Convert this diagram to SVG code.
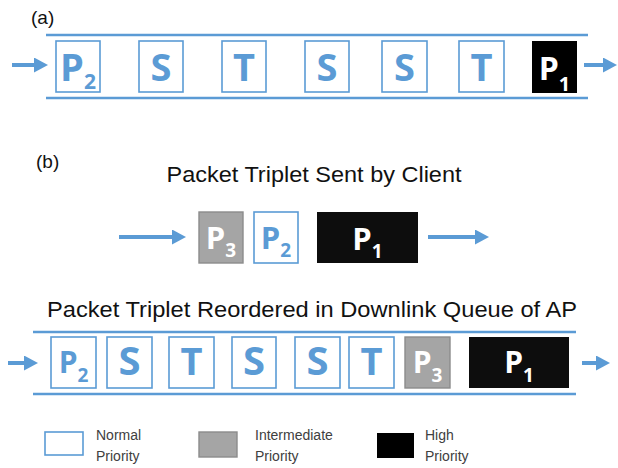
<svg xmlns="http://www.w3.org/2000/svg" width="618" height="468" viewBox="0 0 618 468">
<style>
.bg{fill:#ffffff}
.rail{stroke:#5B9BD5;stroke-width:2.5;fill:none}
.nb{fill:#ffffff;stroke:#5B9BD5;stroke-width:1.6}
.ib{fill:#A5A5A5;stroke:#8C8C8C;stroke-width:1.4}
.hb{fill:#0D0D0D}
.hb2{fill:#000000}
.arr{stroke:#5B9BD5;stroke-width:4;fill:none;marker-end:url(#ah)}
.big{font-family:"Open Sans","Liberation Sans",sans-serif;font-weight:700;text-anchor:middle}
.bl{fill:#5B9BD5}
.wh{fill:#ffffff}
.ttl{font-family:"Liberation Sans",Arial,sans-serif;font-size:22px;fill:#111111;text-anchor:middle}
.lbl{font-family:"Liberation Sans",Arial,sans-serif;font-size:19px;fill:#111111}
.leg{font-family:"Liberation Sans",Arial,sans-serif;font-size:14px;fill:#404040}
</style>
<defs>
<marker id="ah" markerUnits="userSpaceOnUse" markerWidth="14" markerHeight="15" refX="1" refY="7.5" orient="auto">
<path d="M0,0 L14,7.5 L0,15 z" fill="#5B9BD5"/>
</marker>
</defs>
<rect class="bg" x="0" y="0" width="618" height="468"/>

<text class="lbl" x="31" y="24">(a)</text>
<text class="lbl" x="36" y="168">(b)</text>
<text class="ttl" x="314" y="182" textLength="295" lengthAdjust="spacingAndGlyphs">Packet Triplet Sent by Client</text>
<text class="ttl" x="312" y="317" textLength="530" lengthAdjust="spacingAndGlyphs">Packet Triplet Reordered in Downlink Queue of AP</text>

<g id="connectors">
<line class="rail" x1="46" y1="35" x2="588" y2="35"/>
<line class="rail" x1="46" y1="98" x2="588" y2="98"/>
<line class="rail" x1="33" y1="332" x2="576" y2="332"/>
<line class="rail" x1="33" y1="394" x2="576" y2="394"/>
<line class="arr" x1="12" y1="65" x2="35" y2="65"/>
<line class="arr" x1="584" y1="65" x2="604" y2="65"/>
<line class="arr" x1="119" y1="237" x2="173" y2="237"/>
<line class="arr" x1="428" y1="237" x2="476" y2="237"/>
<line class="arr" x1="8" y1="363" x2="25" y2="363"/>
<line class="arr" x1="582" y1="363" x2="597" y2="363"/>
</g>

<g id="a-p2"><rect class="nb" x="56" y="41" width="44" height="51"/><text class="big bl" x="78" y="81" font-size="38">P<tspan font-size="21" dy="8">2</tspan></text></g>
<g id="a-s1"><rect class="nb" x="139" y="41" width="44" height="51"/><text class="big bl" x="161" y="81" font-size="38">S</text></g>
<g id="a-t1"><rect class="nb" x="222" y="41" width="44" height="51"/><text class="big bl" x="244" y="81" font-size="38">T</text></g>
<g id="a-s2"><rect class="nb" x="305" y="41" width="44" height="51"/><text class="big bl" x="327" y="81" font-size="38">S</text></g>
<g id="a-s3"><rect class="nb" x="382" y="41" width="45" height="51"/><text class="big bl" x="404.5" y="81" font-size="38">S</text></g>
<g id="a-t2"><rect class="nb" x="459" y="41" width="45" height="51"/><text class="big bl" x="481.5" y="81" font-size="38">T</text></g>
<g id="a-p1"><rect class="hb2" x="532" y="41" width="45" height="52"/><text class="big wh" x="554.5" y="80" font-size="32">P<tspan font-size="20" dy="11">1</tspan></text></g>

<g id="b-p3"><rect class="ib" x="199" y="212" width="44" height="51"/><text class="big wh" x="221" y="249" font-size="31">P<tspan font-size="19" dy="8">3</tspan></text></g>
<g id="b-p2"><rect class="nb" x="254" y="212" width="44" height="51"/><text class="big bl" x="276" y="249" font-size="31">P<tspan font-size="19" dy="8">2</tspan></text></g>
<g id="b-p1"><rect class="hb" x="317" y="212" width="101" height="51"/><text class="big wh" x="367.5" y="250" font-size="31">P<tspan font-size="19" dy="8">1</tspan></text></g>

<g id="c-p2"><rect class="nb" x="51" y="337" width="45" height="51"/><text class="big bl" x="73.5" y="373" font-size="30">P<tspan font-size="19" dy="9">2</tspan></text></g>
<g id="c-s1"><rect class="nb" x="107" y="337" width="45" height="51"/><text class="big bl" x="129.5" y="375" font-size="40">S</text></g>
<g id="c-t1"><rect class="nb" x="169" y="337" width="45" height="51"/><text class="big bl" x="191.5" y="375" font-size="38">T</text></g>
<g id="c-s2"><rect class="nb" x="232" y="337" width="44" height="51"/><text class="big bl" x="254" y="375" font-size="40">S</text></g>
<g id="c-s3"><rect class="nb" x="295" y="337" width="45" height="51"/><text class="big bl" x="317.5" y="375" font-size="40">S</text></g>
<g id="c-t2"><rect class="nb" x="349" y="337" width="45" height="51"/><text class="big bl" x="371.5" y="375" font-size="38">T</text></g>
<g id="c-p3"><rect class="ib" x="405" y="337" width="45" height="51"/><text class="big wh" x="427.5" y="373" font-size="30">P<tspan font-size="19" dy="9">3</tspan></text></g>
<g id="c-p1"><rect class="hb" x="469" y="337" width="100" height="51"/><text class="big wh" x="519" y="373" font-size="30">P<tspan font-size="19" dy="9">1</tspan></text></g>

<g id="legend-normal"><rect class="nb" x="45" y="432" width="38" height="23"/><text class="leg" x="96" y="440">Normal</text><text class="leg" x="96" y="461">Priority</text></g>
<g id="legend-intermediate"><rect class="ib" x="199" y="432" width="38" height="25"/><text class="leg" x="255" y="440">Intermediate</text><text class="leg" x="255" y="461">Priority</text></g>
<g id="legend-high"><rect class="hb2" x="377" y="433" width="37" height="25"/><text class="leg" x="425" y="440">High</text><text class="leg" x="425" y="461">Priority</text></g>
</svg>
